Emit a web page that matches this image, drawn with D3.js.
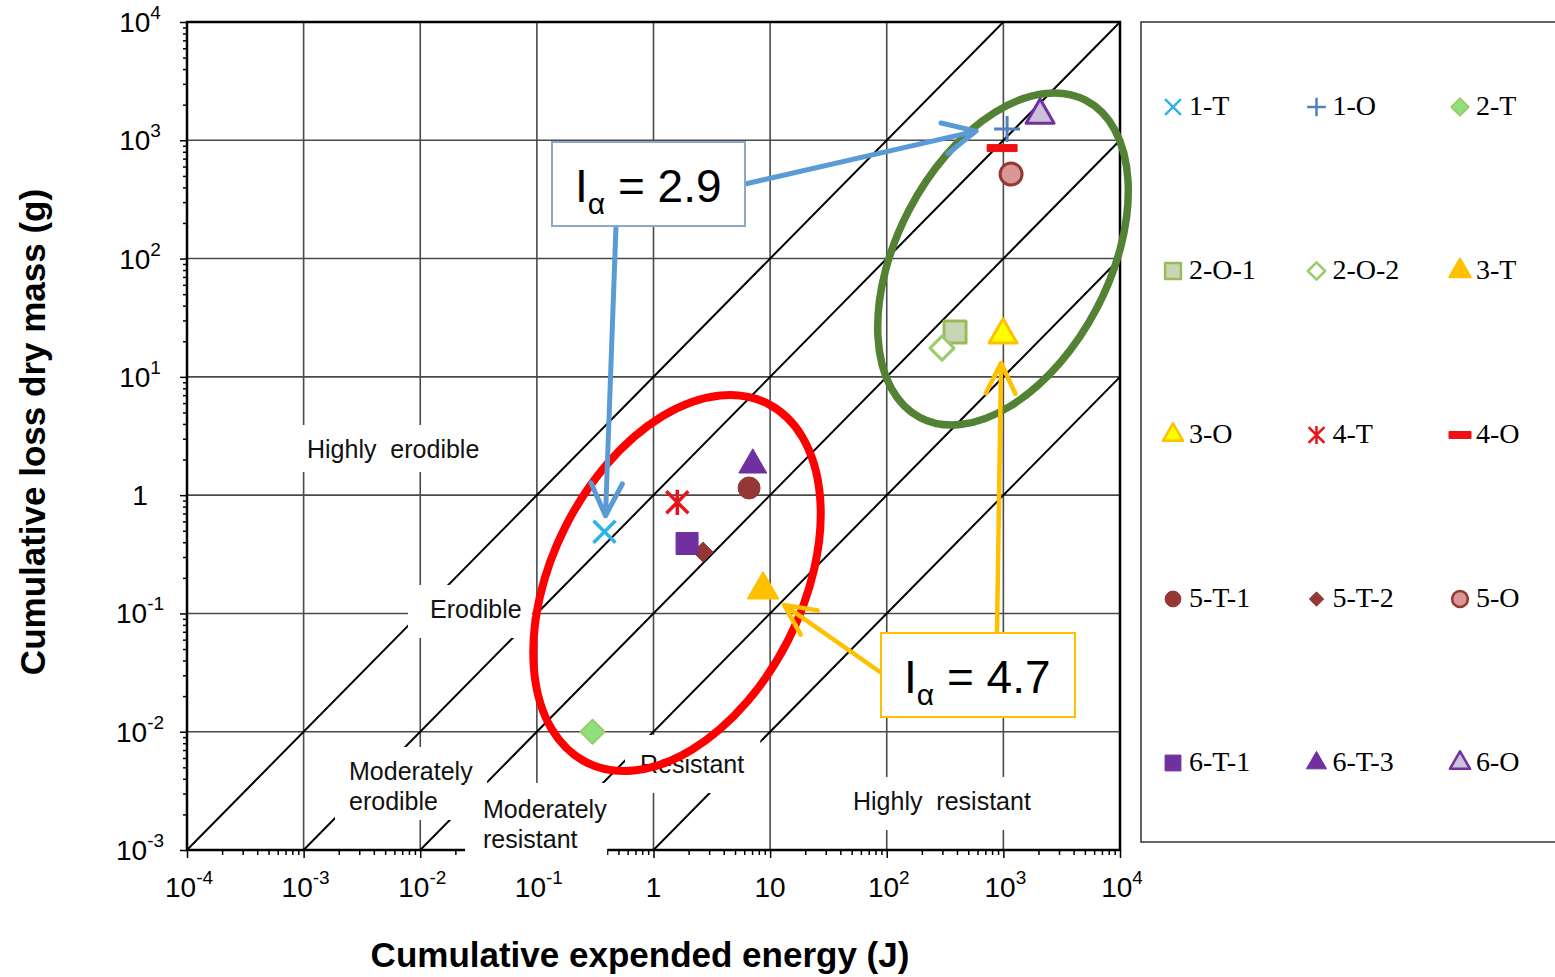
<!DOCTYPE html>
<html>
<head>
<meta charset="utf-8">
<script src="https://cdn.jsdelivr.net/npm/d3@7"></script>
<style>
    body { margin: 0; background: #fff; }
    svg { display: block; }
</style>
</head>
<body>
<div class="svg"></div>
<script>
// series: cumulative expended energy (J) vs cumulative loss dry mass (g)
var seriesNames = ["1-T", "1-O", "2-T", "2-O-1", "2-O-2", "3-T", "3-O", "4-T", "4-O",
    "5-T-1", "5-T-2", "5-O", "6-T-1", "6-T-3", "6-O"];
var energyJ = [0.38, 1076, 0.30, 385, 298, 8.7, 994, 1.6, 975, 6.6, 2.66, 1164, 1.94, 7.1, 2064];
var lossG = [0.49, 1244, 0.010, 23.9, 17.5, 0.158, 22.6, 0.87, 859, 1.15, 0.33, 518, 0.39, 1.80, 1633];

// axis ticks (powers of ten) and their labels [base, exponent]
var xTickExps = [-4, -3, -2, -1, 0, 1, 2, 3, 4];
var xTickLabels = [["10", "-4"], ["10", "-3"], ["10", "-2"], ["10", "-1"], ["1", ""], ["10", ""],
    ["10", "2"], ["10", "3"], ["10", "4"]];
var yTickExps = [-3, -2, -1, 0, 1, 2, 3, 4];
var yTickLabels = [["10", "-3"], ["10", "-2"], ["10", "-1"], ["1", ""], ["10", "1"],
    ["10", "2"], ["10", "3"], ["10", "4"]];

// erodibility class boundaries: loss = k * energy
var boundaryRatios = [10, 1, 0.1, 0.01, 0.001];
var classNames = [["Highly\u00a0\u00a0erodible"], ["Erodible"], ["Moderately", "erodible"],
    ["Moderately", "resistant"], ["Resistant"], ["Highly\u00a0\u00a0resistant"]];

var width, height, margin, x, y, svg, plot;

var markerStyles = {
    "1-T":   {shape: "times",    size: 11, fill: "none",    stroke: "#2EB3E5", sw: 3.5},
    "1-O":   {shape: "plus",     size: 13, fill: "none",    stroke: "#4F81BD", sw: 3},
    "2-T":   {shape: "diamond",  size: 12, fill: "#8EE07E", stroke: "#9BCB6B", sw: 2},
    "2-O-1": {shape: "square",   size: 11, fill: "#C8D6B5", stroke: "#9BBB59", sw: 3},
    "2-O-2": {shape: "diamond",  size: 12, fill: "#fff",    stroke: "#9BCB6B", sw: 3},
    "3-T":   {shape: "triangle", size: 15, fill: "#FFC000", stroke: "#FFC000", sw: 2},
    "3-O":   {shape: "triangle", size: 14, fill: "#FFFF00", stroke: "#FFC000", sw: 3},
    "4-T":   {shape: "asterisk", size: 11, fill: "none",    stroke: "#E8141B", sw: 3.5},
    "4-O":   {shape: "dash",     size: 15, fill: "#EE1111", stroke: "#EE1111", sw: 1},
    "5-T-1": {shape: "circle",   size: 11, fill: "#953735", stroke: "#953735", sw: 1},
    "5-T-2": {shape: "diamond",  size: 10, fill: "#953735", stroke: "#953735", sw: 1},
    "5-O":   {shape: "circle",   size: 11, fill: "#D99694", stroke: "#953735", sw: 3},
    "6-T-1": {shape: "square",   size: 11, fill: "#7030A0", stroke: "#7030A0", sw: 1},
    "6-T-3": {shape: "triangle", size: 14, fill: "#7030A0", stroke: "#7030A0", sw: 1},
    "6-O":   {shape: "triangle", size: 14, fill: "#CCC0DA", stroke: "#7030A0", sw: 3}
};

var setupConfig = function () {
    width = 1555;
    height = 977;
    margin = {left: 187, top: 22, right: 1120, bottom: 850};
};

var setupScales = function () {
    x = d3.scaleLog().domain([1e-4, 1e4]).range([margin.left, margin.right]);
    y = d3.scaleLog().domain([1e-3, 1e4]).range([margin.bottom, margin.top]);
};

var setupSVG = function () {
    svg = d3.select("div.svg").append("svg")
        .attr("width", width)
        .attr("height", height)
        .style("font-family", "'Liberation Sans', Arial, sans-serif");
    svg.append("clipPath").attr("id", "plotClip")
        .append("rect")
        .attr("x", margin.left).attr("y", margin.top)
        .attr("width", margin.right - margin.left)
        .attr("height", margin.bottom - margin.top);
    plot = svg.append("g").attr("clip-path", "url(#plotClip)");
};

// path string for a marker shape of half-size s
var shapePath = function (shape, s) {
    var h;
    switch (shape) {
        case "times":
            return "M" + -s + "," + -s + "L" + s + "," + s + "M" + -s + "," + s + "L" + s + "," + -s;
        case "plus":
            return "M" + -s + ",0L" + s + ",0M0," + -s + "L0," + s;
        case "asterisk":
            return "M" + -s + "," + -s + "L" + s + "," + s + "M" + -s + "," + s + "L" + s + "," + -s +
                "M0," + -s * 1.15 + "L0," + s * 1.15;
        case "diamond":
            return "M0," + -s + "L" + s + ",0L0," + s + "L" + -s + ",0Z";
        case "square":
            return "M" + -s + "," + -s + "H" + s + "V" + s + "H" + -s + "Z";
        case "dash":
            return "M" + -s + ",-3.5H" + s + "V3.5H" + -s + "Z";
        case "triangle":
            h = s * Math.sqrt(3);
            return "M0," + (-2 * h / 3) + "L" + s + "," + (h / 3) + "L" + -s + "," + (h / 3) + "Z";
        default:
            return "M" + s + ",0A" + s + "," + s + " 0 1,1 " + -s + ",0A" + s + "," + s + " 0 1,1 " + s + ",0Z";
    }
};

var drawGrid = function () {
    var grid = plot.append("g");
    grid.selectAll("line.vgrid")
        .data(xTickExps)
        .enter().append("line")
        .attr("class", "vgrid")
        .attr("x1", function (d) { return x(Math.pow(10, d)); })
        .attr("x2", function (d) { return x(Math.pow(10, d)); })
        .attr("y1", margin.top).attr("y2", margin.bottom)
        .style("stroke", "#4a4a4a").style("stroke-width", 1.6);
    grid.selectAll("line.hgrid")
        .data(yTickExps)
        .enter().append("line")
        .attr("class", "hgrid")
        .attr("y1", function (d) { return y(Math.pow(10, d)); })
        .attr("y2", function (d) { return y(Math.pow(10, d)); })
        .attr("x1", margin.left).attr("x2", margin.right)
        .style("stroke", "#4a4a4a").style("stroke-width", 1.6);

    // class boundaries, straight lines of slope 1 in log-log space
    grid.selectAll("line.boundary")
        .data(boundaryRatios)
        .enter().append("line")
        .attr("class", "boundary")
        .each(function (k) {
            var x0 = Math.max(x.domain()[0], y.domain()[0] / k);
            var x1 = Math.min(x.domain()[1], y.domain()[1] / k);
            d3.select(this)
                .attr("x1", x(x0)).attr("y1", y(k * x0))
                .attr("x2", x(x1)).attr("y2", y(k * x1));
        })
        .style("stroke", "#000").style("stroke-width", 2);
};

var drawAxes = function () {
    var minorX = [], minorY = [];
    xTickExps.slice(0, -1).forEach(function (e) {
        for (var m = 2; m < 10; m++) minorX.push(m * Math.pow(10, e));
    });
    yTickExps.slice(0, -1).forEach(function (e) {
        for (var m = 2; m < 10; m++) minorY.push(m * Math.pow(10, e));
    });
    var majorX = xTickExps.map(function (e) { return Math.pow(10, e); });
    var majorY = yTickExps.map(function (e) { return Math.pow(10, e); });

    var styleAxis = function (g) {
        g.select(".domain").remove();
        g.selectAll(".tick line").style("stroke", "#000").style("stroke-width", 1.5);
    };
    svg.append("g").attr("transform", "translate(0," + margin.bottom + ")")
        .call(d3.axisBottom(x).tickValues(minorX).tickSize(5).tickFormat("")).call(styleAxis);
    svg.append("g").attr("transform", "translate(0," + margin.bottom + ")")
        .call(d3.axisBottom(x).tickValues(majorX).tickSize(8).tickFormat("")).call(styleAxis);
    svg.append("g").attr("transform", "translate(" + margin.left + ",0)")
        .call(d3.axisLeft(y).tickValues(minorY).tickSize(4).tickFormat("")).call(styleAxis);
    svg.append("g").attr("transform", "translate(" + margin.left + ",0)")
        .call(d3.axisLeft(y).tickValues(majorY).tickSize(7).tickFormat("")).call(styleAxis);

    // frame
    svg.append("rect")
        .attr("x", margin.left).attr("y", margin.top)
        .attr("width", margin.right - margin.left)
        .attr("height", margin.bottom - margin.top)
        .style("fill", "none").style("stroke", "#000").style("stroke-width", 2.5);

    // tick labels with superscript exponents
    var addPow = function (sel) {
        sel.append("tspan").text(function (d) { return d[1][0]; });
        sel.append("tspan")
            .attr("dy", -13)
            .style("font-size", "19px")
            .text(function (d) { return d[1][1]; });
    };
    svg.selectAll("text.xtick")
        .data(xTickExps.map(function (e, i) { return [e, xTickLabels[i]]; }))
        .enter().append("text")
        .attr("class", "xtick")
        .attr("x", function (d) { return x(Math.pow(10, d[0])) + (d[1][1] ? 2 : 0); })
        .attr("y", 897)
        .attr("text-anchor", "middle")
        .style("font-size", "28px")
        .call(addPow);
    svg.selectAll("text.ytick")
        .data(yTickExps.map(function (e, i) { return [e, yTickLabels[i]]; }))
        .enter().append("text")
        .attr("class", "ytick")
        .attr("x", 140)
        .attr("y", function (d) { return y(Math.pow(10, d[0])) + 10; })
        .attr("text-anchor", "middle")
        .style("font-size", "28px")
        .call(addPow);

    svg.append("text")
        .attr("x", 640).attr("y", 967)
        .attr("text-anchor", "middle")
        .style("font-size", "35px").style("font-weight", "bold")
        .text("Cumulative expended energy (J)");
    svg.append("text")
        .attr("transform", "translate(45,432) rotate(-90)")
        .attr("text-anchor", "middle")
        .style("font-size", "35px").style("font-weight", "bold")
        .text("Cumulative loss dry mass (g)");
};

var drawClassLabels = function () {
    // text anchor [x, first baseline] and white box padding [left, top, right, bottom]
    var anchors = [[307, 458], [430, 618], [349, 780], [483, 818], [640, 773], [853, 810]];
    var pads = [[7, 10, 8, 9], [22, 10, 10, 15], [14, 10, 14, 5], [18, 12, 0, 7], [15, 15, 16, 15], [13, 10, 14, 15]];
    classNames.forEach(function (lines, i) {
        var g = svg.append("g");
        var box = g.append("rect").style("fill", "#fff");
        var t = g.append("text")
            .attr("x", anchors[i][0]).attr("y", anchors[i][1])
            .style("font-size", "25px").style("fill", "#111");
        lines.forEach(function (line, j) {
            t.append("tspan").attr("x", anchors[i][0]).attr("dy", j ? 30 : 0).text(line);
        });
        var bb = t.node().getBBox(), p = pads[i];
        box.attr("x", bb.x - p[0]).attr("y", bb.y - p[1])
            .attr("width", bb.width + p[0] + p[2])
            .attr("height", bb.height + p[1] + p[3]);
    });
};

var drawEllipses = function () {
    svg.append("ellipse")
        .attr("transform", "translate(677,583) rotate(26.8)")
        .attr("rx", 125).attr("ry", 201)
        .style("fill", "none").style("stroke", "#FF0000").style("stroke-width", 8);
    svg.append("ellipse")
        .attr("transform", "translate(1003,259) rotate(27.6)")
        .attr("rx", 106).attr("ry", 179)
        .style("fill", "none").style("stroke", "#548235").style("stroke-width", 7.5);
};

var drawPoints = function () {
    svg.selectAll("path.point")
        .data(seriesNames)
        .enter().append("path")
        .attr("class", "point")
        .attr("transform", function (d, i) {
            return "translate(" + x(energyJ[i]) + "," + y(lossG[i]) + ")";
        })
        .attr("d", function (d) { return shapePath(markerStyles[d].shape, markerStyles[d].size); })
        .style("fill", function (d) { return markerStyles[d].fill; })
        .style("stroke", function (d) { return markerStyles[d].stroke; })
        .style("stroke-width", function (d) { return markerStyles[d].sw; })
        .style("stroke-linejoin", "round");
};

var drawArrow = function (x1, y1, x2, y2, color, w, headLen) {
    var a = Math.atan2(y2 - y1, x2 - x1), spread = 0.45;
    var h1 = [x2 - headLen * Math.cos(a - spread), y2 - headLen * Math.sin(a - spread)];
    var h2 = [x2 - headLen * Math.cos(a + spread), y2 - headLen * Math.sin(a + spread)];
    svg.append("path")
        .attr("d", "M" + x1 + "," + y1 + "L" + x2 + "," + y2 +
            "M" + h1[0] + "," + h1[1] + "L" + x2 + "," + y2 + "L" + h2[0] + "," + h2[1])
        .style("fill", "none").style("stroke", color).style("stroke-width", w)
        .style("stroke-linecap", "round").style("stroke-linejoin", "round");
};

var drawCallout = function (bx, by, bw, bh, color, value) {
    svg.append("rect")
        .attr("x", bx).attr("y", by).attr("width", bw).attr("height", bh)
        .style("fill", "#fff").style("stroke", color).style("stroke-width", 2);
    var t = svg.append("text")
        .attr("x", bx + 23).attr("y", by + 60)
        .style("font-size", "46px").style("fill", "#000");
    t.append("tspan").text("I");
    t.append("tspan").attr("dy", 12).style("font-size", "30px").text("\u03b1");
    t.append("tspan").attr("dy", -12).text(" = " + value);
};

var drawAnnotations = function () {
    var blue = "#5B9BD5", gold = "#FFC000";
    var i1T = seriesNames.indexOf("1-T"), i1O = seriesNames.indexOf("1-O");
    var i3T = seriesNames.indexOf("3-T"), i3O = seriesNames.indexOf("3-O");
    drawArrow(745, 184, x(energyJ[i1O]) - 31, y(lossG[i1O]) + 2, blue, 5, 36);
    drawArrow(616, 226, x(energyJ[i1T]) + 1, y(lossG[i1T]) - 16, blue, 5, 36);
    drawArrow(880, 672, x(energyJ[i3T]) + 21, y(lossG[i3T]) + 15, gold, 4.5, 34);
    drawArrow(997, 632, x(energyJ[i3O]) - 2, y(lossG[i3O]) + 28, gold, 4.5, 34);
    drawCallout(552, 142, 193, 84, "#8EA9C8", "2.9");
    drawCallout(881, 633, 194, 84, gold, "4.7");
};

var drawLegend = function () {
    svg.append("rect")
        .attr("x", 1141).attr("y", 22).attr("width", 430).attr("height", 820)
        .style("fill", "#fff").style("stroke", "#333").style("stroke-width", 1.5);
    var item = svg.selectAll("g.legend")
        .data(seriesNames)
        .enter().append("g")
        .attr("class", "legend")
        .attr("transform", function (d, i) {
            return "translate(" + (1173 + (i % 3) * 143.5) + "," + (115 + Math.floor(i / 3) * 164) + ")";
        });
    item.append("path")
        .attr("transform", "translate(0,-8)")
        .attr("d", function (d) {
            var s = markerStyles[d];
            return shapePath(s.shape, s.shape === "dash" ? 11 : s.size * 0.72);
        })
        .style("fill", function (d) { return markerStyles[d].fill; })
        .style("stroke", function (d) { return markerStyles[d].stroke; })
        .style("stroke-width", function (d) { return Math.min(markerStyles[d].sw, 2.5); })
        .style("stroke-linejoin", "round");
    item.append("text")
        .attr("x", 16)
        .style("font-family", "'Liberation Serif', 'Times New Roman', serif")
        .style("font-size", "28px")
        .text(function (d) { return d; });
};

setupConfig();
setupScales();
setupSVG();
drawGrid();
drawAxes();
drawClassLabels();
drawEllipses();
drawPoints();
drawAnnotations();
drawLegend();
</script>
</body>
</html>
